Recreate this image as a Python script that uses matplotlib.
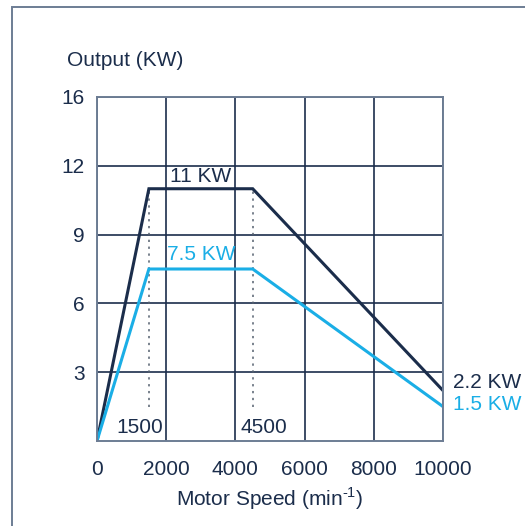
"""
Motor output curve - output power vs motor speed for two motor ratings.
"""

import matplotlib.pyplot as plt
from matplotlib.patches import Rectangle

# Data
speed = [0, 1500, 4500, 10000]
output_11kw = [0, 11, 11, 2.2]
output_7kw = [0, 7.5, 7.5, 1.5]

x_ticks = [0, 2000, 4000, 6000, 8000, 10000]
y_ticks = [3, 6, 9, 12, 15]
y_tick_labels = ['3', '6', '9', '12', '16']
corner_speeds = [1500, 4500]

NAVY = '#1b2d4b'
BLUE = '#1aaee6'
SPINE = '#6d7d94'
FS = 15

plt.rcParams['font.family'] = ['Liberation Sans', 'DejaVu Sans']
plt.rcParams['mathtext.fontset'] = 'custom'
plt.rcParams['mathtext.rm'] = 'Liberation Sans'

fig = plt.figure(figsize=(5.25, 5.26), dpi=100)
ax = fig.add_axes([97 / 525, 1 - 441 / 526, 346 / 525, 344 / 526])

# Outer frame around the figure (cut off at right and bottom)
fig.patches.append(Rectangle((12 / 525, -0.05), 1.1, 1 - 7 / 526 + 0.05,
                             transform=fig.transFigure, fill=False,
                             edgecolor=SPINE, linewidth=1.4))

ax.set_xlim(0, 10000)
ax.set_ylim(0, 15)
ax.set_xticks(x_ticks)
ax.set_yticks(y_ticks)
ax.set_yticklabels(y_tick_labels)
ax.tick_params(length=0, labelsize=FS, labelcolor=NAVY)
ax.tick_params(axis='x', pad=14)
ax.tick_params(axis='y', pad=9)
ax.grid(True, color=NAVY, linewidth=1.2)
ax.set_axisbelow(True)
for side in ax.spines.values():
    side.set_color(SPINE)
    side.set_linewidth(1.4)

# Dotted markers at the corner speeds
for s in corner_speeds:
    ax.vlines(s, 1.5, 11, colors='#55606f', linestyles=(0, (1.5, 3)), linewidth=1.1)

ax.plot(speed, output_11kw, color=NAVY, linewidth=2.2, solid_joinstyle='miter')
ax.plot(speed, output_7kw, color=BLUE, linewidth=2.2, solid_joinstyle='miter')

# Annotations
ax.text(3000, 11.1, '11 KW', color=NAVY, fontsize=FS, ha='center', va='bottom')
ax.text(3000, 7.7, '7.5 KW', color=BLUE, fontsize=FS, ha='center', va='bottom')
ax.text(1250, 0.6, '1500', color=NAVY, fontsize=FS, ha='center', va='center')
ax.text(4820, 0.6, '4500', color=NAVY, fontsize=FS, ha='center', va='center')
ax.text(10280, 2.55, '2.2 KW', color=NAVY, fontsize=FS, ha='left', va='center', clip_on=False)
ax.text(10280, 1.6, '1.5 KW', color=BLUE, fontsize=FS, ha='left', va='center', clip_on=False)

fig.text(67 / 525, 1 - 60 / 526, 'Output (KW)', color=NAVY, fontsize=FS, ha='left', va='center')
ax.set_xlabel(r'Motor Speed (min$^{\text{-1}}$)', color=NAVY, fontsize=FS, labelpad=4)

fig.savefig('out.png', dpi=100)
plt.close(fig)
